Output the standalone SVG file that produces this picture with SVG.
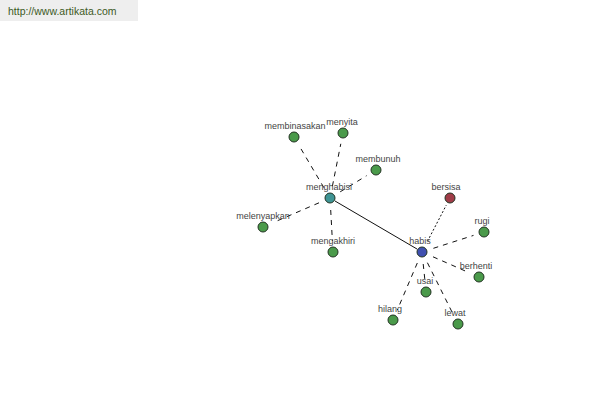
<svg xmlns="http://www.w3.org/2000/svg" width="600" height="400" viewBox="0 0 600 400">
<style>
.lbl{font-family:"Liberation Sans",Arial,sans-serif;font-size:9px;fill:#444;text-anchor:middle}
.n{stroke:#223322;stroke-width:1}
.g{fill:#4a9a4a}
.dash{stroke:#111;stroke-width:1;stroke-dasharray:5,5;fill:none}
.dot{stroke:#111;stroke-width:1;stroke-dasharray:2,2;fill:none}
.solid{stroke:#111;stroke-width:1;fill:none}
</style>
<rect x="0" y="0" width="138" height="21" fill="#eeeeee"/>
<text x="8" y="15" font-family="Liberation Sans,Arial,sans-serif" font-size="10.5" fill="#3d5a1e">http://www.artikata.com</text>
<g id="connectors">
<line class="dash" x1="323.9" y1="187.7" x2="299.6" y2="146.5"/>
<line class="dash" x1="332.4" y1="186.2" x2="340.8" y2="143.8"/>
<line class="dash" x1="340.2" y1="191.8" x2="366.6" y2="175.7"/>
<line class="dash" x1="319" y1="202.8" x2="273.1" y2="222.6"/>
<line class="dash" x1="330.7" y1="210" x2="332.4" y2="241"/>
<line class="solid" x1="335" y1="201" x2="417" y2="249"/>
<line class="dot" x1="427.5" y1="241.3" x2="446.3" y2="205.1"/>
<line class="dash" x1="433.4" y1="248.3" x2="473.5" y2="235.4"/>
<line class="dash" x1="433" y1="256.8" x2="468.9" y2="272.6"/>
<line class="dash" x1="423.2" y1="264" x2="425" y2="281"/>
<line class="dash" x1="417.3" y1="263" x2="397.3" y2="310"/>
<line class="dash" x1="427.4" y1="262.7" x2="453.1" y2="314.2"/>
</g>
<g id="membinasakan"><circle class="n g" cx="294" cy="137" r="5"/><text class="lbl" x="295" y="129">membinasakan</text></g>
<g id="menyita"><circle class="n g" cx="343" cy="133" r="5"/><text class="lbl" x="342" y="125">menyita</text></g>
<g id="membunuh"><circle class="n g" cx="376" cy="170" r="5"/><text class="lbl" x="378" y="162">membunuh</text></g>
<g id="melenyapkan"><circle class="n g" cx="263" cy="227" r="5"/><text class="lbl" x="263" y="219">melenyapkan</text></g>
<g id="mengakhiri"><circle class="n g" cx="333" cy="252" r="5"/><text class="lbl" x="333" y="244">mengakhiri</text></g>
<g id="menghabisi"><circle class="n" fill="#3f9494" cx="330" cy="198" r="5"/><text class="lbl" x="329" y="190">menghabisi</text></g>
<g id="habis"><circle class="n" fill="#4050b0" cx="422" cy="252" r="5"/><text class="lbl" x="420" y="244">habis</text></g>
<g id="bersisa"><circle class="n" fill="#a03c48" cx="450" cy="198" r="5"/><text class="lbl" x="446" y="190">bersisa</text></g>
<g id="rugi"><circle class="n g" cx="484" cy="232" r="5"/><text class="lbl" x="482" y="224">rugi</text></g>
<g id="berhenti"><circle class="n g" cx="479" cy="277" r="5"/><text class="lbl" x="476" y="269">berhenti</text></g>
<g id="usai"><circle class="n g" cx="426" cy="292" r="5"/><text class="lbl" x="425" y="284">usai</text></g>
<g id="hilang"><circle class="n g" cx="393" cy="320" r="5"/><text class="lbl" x="390" y="312">hilang</text></g>
<g id="lewat"><circle class="n g" cx="458" cy="324" r="5"/><text class="lbl" x="455" y="316">lewat</text></g>
</svg>
